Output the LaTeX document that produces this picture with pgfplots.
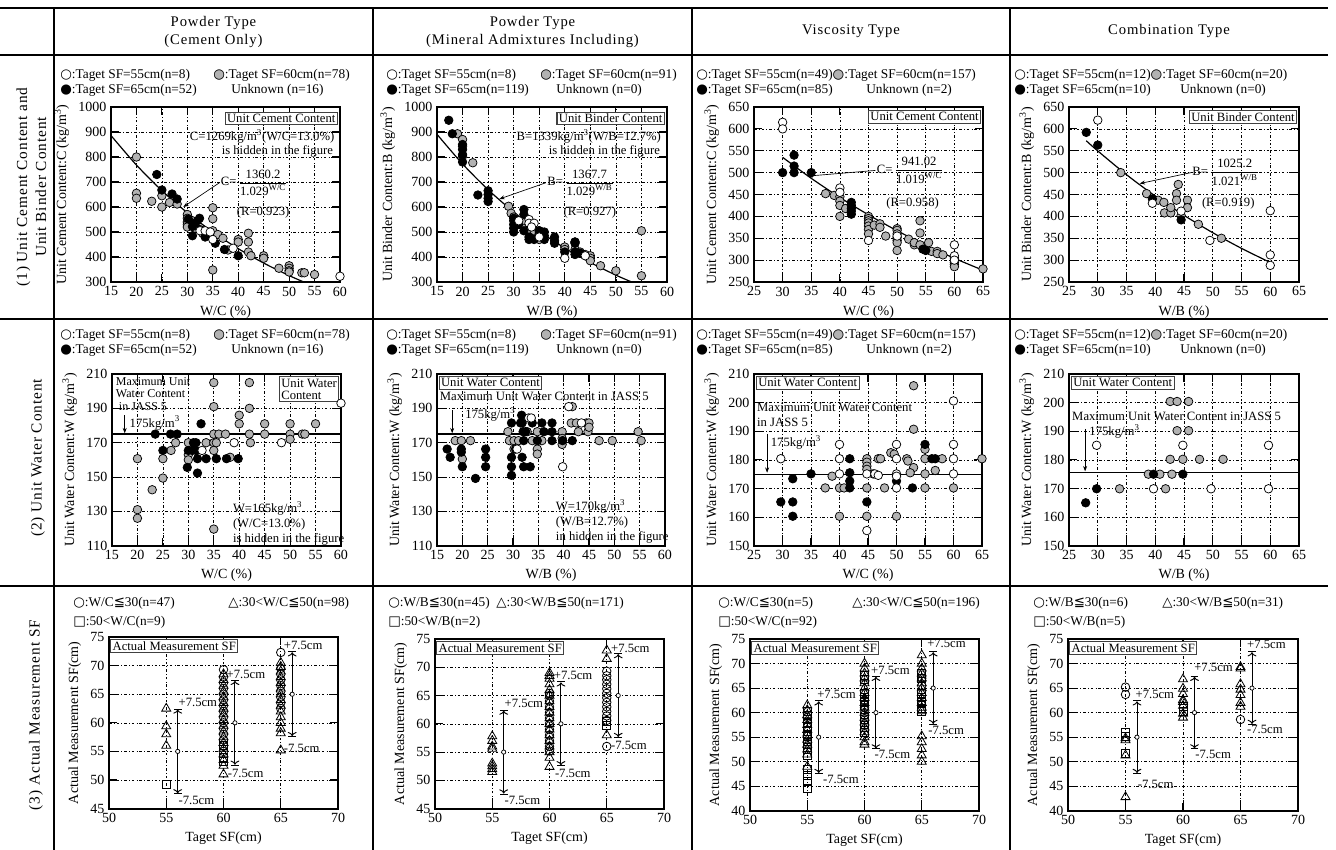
\documentclass[border=0pt]{standalone}
\usepackage{fontspec}
\setmainfont{Liberation Serif}
\newfontfamily\spaced[LetterSpace=6]{Liberation Serif}
\newfontfamily\symf{DejaVu Sans}
\usepackage{pgfplots}
\pgfplotsset{compat=1.18}
\usetikzlibrary{arrows.meta}

% legend glyphs
\newcommand{\wc}{{\symf\char"25CB}}
\newcommand{\bc}{{\symf\char"25CF}}
\newcommand{\gcc}{\makebox[0pt][l]{\symf\textcolor{gray!60}{\char"25CF}}{\symf\char"25CB}}
\newcommand{\tri}{{\symf\char"25B3}}
\newcommand{\sqb}{{\symf\char"25A1}}
\newcommand{\lqq}{{\symf\char"2266}}
\newcommand{\cube}{\textsuperscript{3}}

\pgfplotsset{
  pan/.style={scale only axis, anchor=north west,
    axis line style={line width=1.6pt},
    grid=major,
    major grid style={black, line width=0.45pt, dash pattern=on 2pt off 1.6pt on 0.5pt off 1.6pt},
    tick align=inside, major tick length=6pt,
    every tick/.style={black, line width=0.8pt},
    /pgf/number format/assume math mode=true,
    /pgf/number format/1000 sep={},
    tick label style={font=\fontsize{10.5}{12}\selectfont},
    label style={font=\fontsize{10.5}{12}\selectfont},
    clip=false},
  wpt/.style={only marks, mark=*, mark size=3.2pt, mark options={draw=black, fill=white, line width=0.55pt}},
  gpt/.style={only marks, mark=*, mark size=3.2pt, mark options={draw=black, fill=gray!60, line width=0.55pt}},
  bpt/.style={only marks, mark=*, mark size=3.2pt, mark options={draw=black, fill=black, line width=0.55pt}},
  fitc/.style={black, line width=0.9pt, smooth, no marks},
  cir/.style={only marks, mark=o, mark size=3.2pt, mark options={draw=black, line width=0.6pt}},
  trg/.style={only marks, mark=triangle, mark size=3.9pt, mark options={draw=black, line width=0.6pt}},
  sqr/.style={only marks, mark=square, mark size=3pt, mark options={draw=black, line width=0.6pt}},
  pm/.style={black, line width=0.7pt, |<->|, no marks},
  ctr/.style={only marks, mark=*, mark size=1.6pt, mark options={draw=black, fill=white, line width=0.55pt}},
  jass/.style={black, line width=1pt, no marks},
}
\tikzset{
  lg/.style={anchor=west, inner sep=0pt, font=\fontsize{10}{12}\selectfont},
  ann/.style={inner sep=0.5pt, font=\fontsize{9.5}{10.5}\selectfont},
  bx/.style={draw=black!75, line width=0.8pt, fill=white, inner sep=1.5pt, font=\fontsize{9.5}{10}\selectfont},
  arr/.style={-{Stealth[length=4pt,width=3pt]}, line width=0.5pt},
}

\begin{document}
\begin{tikzpicture}[x=0.75pt, y=-0.75pt]
\useasboundingbox (0,0) rectangle (1336,850);

% table frame
\draw[line width=1.5pt] (0,8) -- (1328,8);
\draw[line width=1.5pt] (0,55) -- (1328,55);
\draw[line width=1.5pt] (0,319) -- (1328,319);
\draw[line width=1.5pt] (0,586) -- (1328,586);
\foreach \cx in {54,373,692,1010} \draw[line width=1.1pt] (\cx,8) -- (\cx,850);

% headers
\node[align=center, font=\spaced\fontsize{11}{13.5}\selectfont] at (213.5,32) {Powder Type\\(Cement Only)};
\node[align=center, font=\spaced\fontsize{11}{13.5}\selectfont] at (532.5,32) {Powder Type\\(Mineral Admixtures Including)};
\node[font=\spaced\fontsize{11}{13.5}\selectfont] at (851,31) {Viscosity Type};
\node[font=\spaced\fontsize{11}{13.5}\selectfont] at (1169,31) {Combination Type};

% row labels
\node[rotate=90, align=center, font=\spaced\fontsize{11.5}{14.25}\selectfont] at (31.5,187) {(1) Unit Cement Content and\\Unit Binder Content};
\node[rotate=90, font=\spaced\fontsize{11.5}{14}\selectfont] at (38,458) {(2) Unit Water Content};
\node[rotate=90, font=\spaced\fontsize{11.5}{14}\selectfont] at (36,715) {(3) Actual Measurement SF};

% legends rows 1 and 2
\foreach \ry in {0,260} {
  \node[lg] at (60,75+\ry) {\wc:Taget SF=55cm(n=8)};
  \node[lg] at (213,75+\ry) {\gcc:Taget SF=60cm(n=78)};
  \node[lg] at (60,90+\ry) {\bc:Taget SF=65cm(n=52)};
  \node[lg] at (231,90+\ry) {Unknown (n=16)};
  \node[lg] at (386,75+\ry) {\wc:Taget SF=55cm(n=8)};
  \node[lg] at (540,75+\ry) {\gcc:Taget SF=60cm(n=91)};
  \node[lg] at (386,90+\ry) {\bc:Taget SF=65cm(n=119)};
  \node[lg] at (556,90+\ry) {Unknown (n=0)};
  \node[lg] at (696,75+\ry) {\wc:Taget SF=55cm(n=49)\gcc:Taget SF=60cm(n=157)};
  \node[lg] at (696,90+\ry) {\bc:Taget SF=65cm(n=85)};
  \node[lg] at (866,90+\ry) {Unknown (n=2)};
  \node[lg] at (1014,75+\ry) {\wc:Taget SF=55cm(n=12)\gcc:Taget SF=60cm(n=20)};
  \node[lg] at (1014,90+\ry) {\bc:Taget SF=65cm(n=10)};
  \node[lg] at (1180,90+\ry) {Unknown (n=0)};
}
% legends row 3
\node[lg] at (73,603) {\wc:W/C\lqq30(n=47)};
\node[lg] at (228,603) {\tri:30<W/C\lqq50(n=98)};
\node[lg] at (73,622) {\sqb:50<W/C(n=9)};
\node[lg] at (388,603) {\wc:W/B\lqq30(n=45)\ \ \tri:30<W/B\lqq50(n=171)};
\node[lg] at (388,622) {\sqb:50<W/B(n=2)};
\node[lg] at (718,603) {\wc:W/C\lqq30(n=5)};
\node[lg] at (852,603) {\tri:30<W/C\lqq50(n=196)};
\node[lg] at (718,622) {\sqb:50<W/C(n=92)};
\node[lg] at (1033,603) {\wc:W/B\lqq30(n=6)};
\node[lg] at (1162,603) {\tri:30<W/B\lqq50(n=31)};
\node[lg] at (1033,622) {\sqb:50<W/B(n=5)};

%================ ROW 1 ================
\begin{axis}[pan, at={(83.25pt,-80.25pt)}, width=171.75pt, height=131.25pt,
  xmin=15, xmax=60, ymin=300, ymax=1000, xtick={15,20,...,60}, ytick={300,400,...,1000},
  xlabel={W/C (\%)}, ylabel={Unit Cement Content:C (kg/m\cube)}]
\addplot[gpt] coordinates {(20,800) (20,655) (20,635) (23,623) (25,645) (25,600) (26.5,618) (28,612) (30,570) (30,555) (30,540) (30,530) (30,520) (32.5,510) (33,495) (35,597) (35,553) (35,505) (35,480) (35,348) (36,490) (37,475) (38,428) (40,470) (40,460) (42,495) (42,460) (42,420) (42.5,405) (45,405) (45,395) (48,355) (50,365) (50,355) (50,345) (50,340) (52.5,337) (53,337) (55,330) (31,545) (34,500) (31.5,515)};
\addplot[bpt] coordinates {(24,730) (25,668) (27,652) (28,632) (30.2,552) (31,522) (31,485) (32.4,555) (33,505) (34,485) (35.5,455) (37.3,430) (40,405) (32,545) (31.5,535) (33.5,480)};
\addplot[wpt] coordinates {(32.5,505) (33.5,505) (34.5,500) (39,435) (60,323) (35,470)};
\addplot[fitc] coordinates {(15,885.9) (20,767.9) (25,665.6) (30,577.0) (35,500.1) (40,433.5) (45,375.8) (50,325.7) (52.9,300)};
\node[bx, anchor=north east] at (axis cs:59.6,982) {Unit Cement Content};
\node[ann] at (axis cs:44.7,881) {C=1269kg/m\cube(W/C=13.0\%)};
\node[ann, anchor=east] at (axis cs:58.8,821) {is hidden in the figure};
\node[ann, anchor=west] at (axis cs:36.4,697) {C=\,$\displaystyle\frac{\mbox{1360.2}}{\mbox{1.029\textsuperscript{W/C}}}$};
\node[ann] at (axis cs:44.9,577) {(R=0.923)};
\draw[arr] (axis cs:36.3,697) -- (axis cs:29.2,600);
\end{axis}

\begin{axis}[pan, at={(327.75pt,-80.25pt)}, width=172.5pt, height=131.25pt,
  xmin=15, xmax=60, ymin=300, ymax=1000, xtick={15,20,...,60}, ytick={300,400,...,1000},
  xlabel={W/B (\%)}, ylabel={Unit Binder Content:B (kg/m\cube)}]
\addplot[gpt] coordinates {(19,893) (20,870) (20,843) (20,803) (22,777) (29,603) (29.5,575) (30,560) (30,545) (31,540) (32,545) (33,530) (33,505) (34,505) (35,505) (35,495) (35,485) (35,470) (40,440) (40,430) (42,430) (42,460) (43,420) (43,415) (44,410) (45,405) (45,395) (45,385) (47,365) (50,345) (55,325) (55,505)};
\addplot[bpt] coordinates {(17.3,947) (18,893) (20,850) (20,830) (20,810) (20,780) (23,648) (25,665) (25,650) (25,635) (25,622) (30,555) (30,530) (30,515) (30,500) (31,530) (32,590) (32,570) (32,505) (33,480) (33,470) (34,470) (35,505) (35,490) (36,500) (36,485) (36,470) (38,480) (38,465) (38,455) (40,420) (42,460) (42,455) (42,420) (42,410) (43,415)};
\addplot[wpt] coordinates {(31,545) (33,550) (33,535) (34,535) (35,480) (40,395) (44,405) (33.5,520)};
\addplot[fitc] coordinates {(15,890.8) (20,772.2) (25,669.3) (30,580.1) (35,502.9) (40,435.9) (45,377.9) (50,327.5) (53.1,300)};
\node[bx, anchor=north east] at (axis cs:59.6,982) {Unit Binder Content};
\node[ann] at (axis cs:44.7,881) {B=1339kg/m\cube(W/B=12.7\%)};
\node[ann, anchor=east] at (axis cs:58.8,821) {is hidden in the figure};
\node[ann, anchor=west] at (axis cs:36.4,697) {B=\,$\displaystyle\frac{\mbox{1367.7}}{\mbox{1.029\textsuperscript{W/B}}}$};
\node[ann] at (axis cs:44.9,577) {(R=0.927)};
\draw[arr] (axis cs:36.3,697) -- (axis cs:27.2,632);
\end{axis}

\begin{axis}[pan, at={(565.5pt,-80.25pt)}, width=171.75pt, height=131.25pt,
  xmin=25, xmax=65, ymin=250, ymax=650, xtick={25,30,...,65}, ytick={250,300,...,650},
  xlabel={W/C (\%)}, ylabel={Unit Cement Content:C (kg/m\cube)}]
\addplot[gpt] coordinates {(37.5,452) (39,448) (40,445) (40,435) (40,425) (40,400) (41,418) (45,400) (45,395) (45,390) (45,385) (45,378) (45,370) (45,360) (46,380) (47,383) (47,375) (48,355) (50,372) (50,368) (50,360) (50,352) (50,345) (50,340) (50,322) (52,348) (53,335) (53,340) (54,390) (54,362) (54,335) (55.5,340) (56,320) (57,320) (57,315) (58,312) (60,305) (60,295) (60,290) (60,285) (65,280)};
\addplot[bpt] coordinates {(30,500) (32,540) (32,515) (32,500) (35,500) (42,432) (42,425) (42,418) (42,412) (42,405) (54.5,325) (55,322)};
\addplot[wpt] coordinates {(30,615) (30,600) (40,465) (40,455) (45,345) (50,355) (60,335) (60,310) (60,300)};
\addplot[fitc] coordinates {(30,535.0) (35,487.0) (40,443.3) (45,403.5) (50,367.2) (55,334.2) (60,304.2) (65,276.9)};
\node[bx, anchor=north east] at (axis cs:64.7,643) {Unit Cement Content};
\node[ann, anchor=west] at (axis cs:46.3,505) {C=\,$\displaystyle\frac{\mbox{941.02}}{\mbox{1.019\textsuperscript{W/C}}}$};
\node[ann] at (axis cs:52.7,430) {(R=0.958)};
\draw[arr] (axis cs:46.2,505) -- (axis cs:34.3,492);
\end{axis}

\begin{axis}[pan, at={(801.75pt,-80.25pt)}, width=172.5pt, height=131.25pt,
  xmin=25, xmax=65, ymin=250, ymax=650, xtick={25,30,...,65}, ytick={250,300,...,650},
  xlabel={W/B (\%)}, ylabel={Unit Binder Content:B (kg/m\cube)}]
\addplot[gpt] coordinates {(34,500) (38.5,452) (40.5,437) (41.6,408) (42.7,408) (42.7,420) (44,473) (43.7,452) (43.7,437) (44.5,402) (45.6,437) (45.6,420) (47.5,382) (51.5,350) (41.5,432)};
\addplot[bpt] coordinates {(28,592) (30,563) (39.5,440) (44.5,392)};
\addplot[wpt] coordinates {(30,620) (39.5,430) (44.5,412) (49.5,345) (60,413) (60,312) (60,288)};
\addplot[fitc] coordinates {(28,572.9) (30,549.6) (35,495.3) (40,446.5) (45,402.4) (50,362.7) (55,326.9) (60,294.6)};
\node[bx, anchor=north east] at (axis cs:64.7,643) {Unit Binder Content};
\node[ann, anchor=west] at (axis cs:46.3,500) {B=\,$\displaystyle\frac{\mbox{1025.2}}{\mbox{1.021\textsuperscript{W/B}}}$};
\node[ann] at (axis cs:52.7,430) {(R=0.919)};
\draw[arr] (axis cs:46.2,500) -- (axis cs:37.3,475);
\end{axis}

%================ ROW 2 ================
\begin{axis}[pan, at={(84pt,-280.5pt)}, width=171.75pt, height=128.8pt,
  xmin=15, xmax=60, ymin=110, ymax=210, xtick={15,20,...,60}, ytick={110,130,...,210},
  xlabel={W/C (\%)}, ylabel={Unit Water Content:W (kg/m\cube)}]
\addplot[jass] coordinates {(15,175) (60,175)};
\addplot[gpt] coordinates {(35,205) (42,205) (35,191) (42,190) (40,186) (40,181) (45,181) (50,181) (55,181) (35,175) (36,175) (37.3,175) (42,175) (45,175) (50,175) (52.4,175) (52.9,175) (27.5,170) (30,170) (33.5,170) (35,170) (35.5,170) (42.2,170) (50,172) (26.6,165.5) (35,165.5) (20,160.7) (25,160.7) (30,163) (30,160) (38.2,161.5) (25,149.4) (22.9,142.6) (20,131) (20,126) (35,119.7)};
\addplot[bpt] coordinates {(32.5,181) (23.5,175) (26.5,175) (27.8,175) (31,170) (31.5,170) (25,165.5) (30,165.5) (30.8,165.5) (31.5,165.5) (31.8,160.7) (33.5,160.7) (35.5,160.7) (37.5,160.7) (39.8,160.7) (29.8,155.6) (31.8,152.3)};
\addplot[wpt] coordinates {(32.7,165.5) (39,170) (48.3,170) (60,193)};
\node[ann, anchor=north west, align=left, font=\fontsize{9}{9.3}\selectfont] at (axis cs:15.6,208.5) {Maximum Unit\\Water Content\\\ in JASS 5};
\node[ann, anchor=west] at (axis cs:18.3,181.5) {175kg/m\cube};
\draw[arr] (axis cs:17.5,186) -- (axis cs:17.5,175.5);
\node[bx, anchor=north east, align=left, font=\fontsize{9.5}{9.5}\selectfont] at (axis cs:59.7,208.7) {Unit Water\\Content};
\node[ann, anchor=north west, align=left, font=\fontsize{9.5}{11.3}\selectfont] at (axis cs:38.6,136.5) {W=165kg/m\cube\\(W/C=13.0\%)\\is hidden in the figure};
\end{axis}

\begin{axis}[pan, at={(327.75pt,-280.5pt)}, width=171pt, height=128.8pt,
  xmin=15, xmax=60, ymin=110, ymax=210, xtick={15,20,...,60}, ytick={110,130,...,210},
  xlabel={W/B (\%)}, ylabel={Unit Water Content:W (kg/m\cube)}]
\addplot[jass] coordinates {(15,175) (60,175)};
\addplot[gpt] coordinates {(41.7,191) (41.5,181.5) (42.5,181.5) (44.5,181.5) (45,181.5) (29,176.4) (32.8,176.4) (34.8,176.4) (39.7,176.4) (42.9,176.4) (44.8,176.4) (45,179) (54.7,176.4) (18.6,171.2) (19.8,171.2) (21.6,171.2) (29.3,171.2) (30.2,171.2) (31.1,171.2) (33.8,171.2) (35.7,171.2) (39.7,172.5) (39.7,169) (47,171.2) (49.6,171.2) (55.3,171.2) (30.2,166.3) (34.8,166.3) (34.8,163.4) (20,160.5)};
\addplot[bpt] coordinates {(31.7,186) (29.7,181.5) (31.5,181.5) (31.8,181.5) (33.8,181.5) (35.7,181.5) (37.7,181.5) (32,176.4) (32.5,176.4) (36.1,176.4) (37.7,176.4) (32.1,171.2) (34.8,171.2) (37.7,171.2) (39.8,171.2) (41.7,171.2) (17,166.3) (19.8,166.3) (24.6,166.3) (17.6,161.5) (19.8,164.5) (24.6,161.5) (29.7,161.5) (31.8,161.5) (20,156) (24.6,156) (29.7,156) (32.1,156) (33.4,156) (22.6,149.2) (29.7,151) (30.5,166.3)};
\addplot[wpt] coordinates {(41,191) (33.1,184.4) (33.6,184.4) (30.8,166.3) (39.8,156) (43.5,181.5)};
\node[bx, anchor=north west] at (axis cs:15.3,208.8) {Unit Water Content};
\node[ann, anchor=west] at (axis cs:15.4,196.8) {Maximum Unit Water Content in JASS 5};
\node[ann, anchor=west] at (axis cs:20.4,186.7) {175kg/m\cube};
\draw[arr] (axis cs:18,189) -- (axis cs:18,175.5);
\node[ann, anchor=north west, align=left, font=\fontsize{9.5}{11.3}\selectfont] at (axis cs:38.3,137.5) {W=170kg/m\cube\\(W/B=12.7\%)\\in hidden in the figure};
\end{axis}

\begin{axis}[pan, at={(565.5pt,-280.5pt)}, width=171pt, height=128.8pt,
  xmin=25, xmax=65, ymin=150, ymax=210, xtick={25,30,...,65}, ytick={150,160,...,210},
  xlabel={W/C (\%)}, ylabel={Unit Water Content:W (kg/m\cube)}]
\addplot[jass] coordinates {(25,175) (65,175)};
\addplot[gpt] coordinates {(53,205.9) (53,190.7) (55,183.7) (49,182.5) (49.6,182) (44.8,180.4) (46.8,180.4) (47.2,180.4) (51.8,180.4) (52,179.6) (55,180.4) (58,180.4) (65,180.4) (44.8,179.2) (44.8,177.8) (44.8,176.7) (53,177.3) (56.8,176.3) (52.4,175.5) (45.9,175.1) (55,175.1) (38.7,174.3) (37.5,170.2) (40,170.2) (40.8,170.2) (44.8,170.2) (47.9,170.2) (55,170.2) (60,170.2) (40,160.3) (44.8,160.3) (50,160.3)};
\addplot[bpt] coordinates {(55,185.4) (41.8,180.4) (56.2,180.4) (56.8,180.4) (35,175.1) (41.8,175.5) (31.8,173.4) (41.8,172.6) (50,172.6) (41.8,170.2) (52.8,170.2) (29.7,165.3) (31.8,165.3) (44.8,165.3) (31.8,160.3)};
\addplot[wpt] coordinates {(60,200.6) (40,185.4) (50,185.4) (60,185.4) (29.7,180.4) (40,180.4) (50,180.4) (60,180.4) (40,175.1) (44.8,175.1) (46.2,175.1) (46.8,174.6) (50,175.1) (50,174.3) (60,175.1) (50,170.2) (44.8,155.3)};
\node[bx, anchor=north west] at (axis cs:25.3,209.3) {Unit Water Content};
\node[ann, anchor=north west, align=left, font=\fontsize{9.5}{11}\selectfont] at (axis cs:25.4,200) {Maximum Unit Water Content\\in JASS 5};
\node[ann, anchor=west] at (axis cs:27.8,186) {175kg/m\cube};
\draw[arr] (axis cs:27.3,189) -- (axis cs:27.3,175.5);
\end{axis}

\begin{axis}[pan, at={(801.75pt,-280.5pt)}, width=172.5pt, height=128.8pt,
  xmin=25, xmax=65, ymin=150, ymax=210, xtick={25,30,...,65}, ytick={150,160,...,210},
  xlabel={W/B (\%)}, ylabel={Unit Water Content:W (kg/m\cube)}]
\addplot[jass] coordinates {(25,175.5) (65,175.5)};
\addplot[gpt] coordinates {(42.6,200.4) (43.8,200.4) (45.8,200.4) (43.8,190.2) (45.8,190.2) (42.6,180.2) (44.8,180.2) (47.7,180.2) (51.8,180.2) (38.8,175) (40.8,175) (42.9,175) (33.8,169.9) (41.8,169.9)};
\addplot[bpt] coordinates {(39.7,175) (44.8,175) (29.8,169.9) (27.9,165)};
\addplot[wpt] coordinates {(29.8,185.1) (44.8,185.1) (59.7,185.1) (39.7,169.9) (49.7,169.9) (59.7,169.9)};
\node[bx, anchor=north west] at (axis cs:25.3,209.3) {Unit Water Content};
\node[ann, anchor=west] at (axis cs:25.4,195.1) {Maximum Unit Water Content in JASS 5};
\node[ann, anchor=west] at (axis cs:28.4,189.8) {175kg/m\cube};
\draw[arr] (axis cs:27.8,190.8) -- (axis cs:27.8,176);
\end{axis}

%================ ROW 3 ================
\begin{axis}[pan, at={(81.75pt,-477.75pt)}, width=171.75pt, height=128.7pt,
  xmin=50, xmax=70, ymin=45, ymax=75, xtick={50,55,...,70}, ytick={45,50,...,75},
  xlabel={Taget SF(cm)}, ylabel={Actual Measurement SF(cm)}]
\addplot[trg] coordinates {(55,62.5) (55,59.4) (55,58) (55,56) (60,68.5) (60,67.5) (60,66.5) (60,65.5) (60,64.5) (60,63.5) (60,62.5) (60,61.5) (60,60.5) (60,59.5) (60,58.5) (60,57.5) (60,56.5) (60,55.5) (60,54.5) (60,53.5) (60,52.5) (60,51) (65,70.5) (65,69.8) (65,69) (65,68) (65,67) (65,66) (65,65) (65,64) (65,63) (65,62) (65,61) (65,60) (65,59) (65,58.2) (65,55.2)};
\addplot[cir] coordinates {(60,69.3) (60,68) (60,67) (60,66) (60,65) (60,64) (60,63) (60,62) (60,61) (60,60) (60,59) (60,58) (60,57) (60,56) (60,55) (65,72.3) (65,69.5) (65,68.5) (65,67.5) (65,66.5) (65,65.5) (65,64.5) (65,63.5) (65,62.5)};
\addplot[sqr] coordinates {(55,49.2) (60,54) (60,53.2) (60,56)};
\addplot[pm] coordinates {(56,47.5) (56,62.5)};
\addplot[pm] coordinates {(61,52.5) (61,67.5)};
\addplot[pm] coordinates {(66,57.5) (66,72.5)};
\addplot[ctr] coordinates {(56,55) (61,60) (66,65)};
\node[bx, anchor=north west] at (axis cs:50.1,74.6) {Actual Measurement SF};
\node[ann, anchor=south west] at (axis cs:56,62.6) {+7.5cm};
\node[ann, anchor=north west] at (axis cs:56,47.3) {-7.5cm};
\node[ann, anchor=south west] at (axis cs:60.2,67.6) {+7.5cm};
\node[ann, anchor=west] at (axis cs:60.3,51.2) {-7.5cm};
\node[ann, anchor=south west] at (axis cs:65.2,72.6) {+7.5cm};
\node[ann, anchor=west] at (axis cs:65.2,55.6) {-7.5cm};
\end{axis}

\begin{axis}[pan, at={(326.25pt,-479.25pt)}, width=171.75pt, height=127.2pt,
  xmin=50, xmax=70, ymin=45, ymax=75, xtick={50,55,...,70}, ytick={45,50,...,75},
  xlabel={Taget SF(cm)}, ylabel={Actual Measurement SF(cm)}]
\addplot[trg] coordinates {(55,57.8) (55,57) (55,56) (55,55.6) (55,53) (55,52.5) (55,52) (55,51.5) (60,69) (60,68.5) (60,68) (60,67) (60,66) (60,65) (60,64) (60,63) (60,62) (60,61) (60,60) (60,59) (60,58) (60,57) (60,56) (60,55) (60,54) (60,52.4) (65,73) (65,71.5) (65,58)};
\addplot[cir] coordinates {(60,65.4) (60,65) (60,64) (60,63) (60,62) (60,61) (60,60) (60,59) (60,58) (60,57) (60,56) (60,55.2) (65,69.3) (65,68.5) (65,67.8) (65,67) (65,66.2) (65,65.4) (65,64.6) (65,63.8) (65,63) (65,62.2) (65,61.4) (65,60.6) (65,56)};
\addplot[sqr] coordinates {(65,59.8) (65,60.4)};
\addplot[pm] coordinates {(56,47.5) (56,62.5)};
\addplot[pm] coordinates {(61,52.5) (61,67.5)};
\addplot[pm] coordinates {(66,57.5) (66,72.5)};
\addplot[ctr] coordinates {(56,55) (61,60) (66,65)};
\node[bx, anchor=north west] at (axis cs:50.1,74.6) {Actual Measurement SF};
\node[ann, anchor=south west] at (axis cs:56,62.6) {+7.5cm};
\node[ann, anchor=north west] at (axis cs:56,47.3) {-7.5cm};
\node[ann, anchor=west] at (axis cs:60.3,68.5) {+7.5cm};
\node[ann, anchor=west] at (axis cs:60.4,51.3) {-7.5cm};
\node[ann, anchor=west] at (axis cs:65.3,73.4) {+7.5cm};
\node[ann, anchor=west] at (axis cs:65.3,56.2) {-7.5cm};
\end{axis}

\begin{axis}[pan, at={(562.5pt,-479.25pt)}, width=171.75pt, height=128.8pt,
  xmin=50, xmax=70, ymin=40, ymax=75, xtick={50,55,...,70}, ytick={40,45,...,75},
  xlabel={Taget SF(cm)}, ylabel={Actual Measurement SF(cm)}]
\addplot[sqr] coordinates {(55,60.3) (55,59.5) (55,58) (55,57) (55,55.5) (55,54.5) (55,53.5) (55,52.5) (55,51.3) (55,48.5) (55,47.2) (55,45.9) (55,44.6) (60,67.5) (60,66.8) (60,64) (60,63) (60,62) (60,59) (60,58) (60,57) (60,56) (65,68) (65,67) (65,64) (65,63) (65,62) (65,60.8) (65,60.2)};
\addplot[trg] coordinates {(55,61.5) (55,60.5) (55,59.5) (55,58.5) (55,57.5) (55,56.5) (55,55.5) (55,54.5) (55,53.5) (55,52.5) (55,51.5) (55,49) (60,70) (60,69) (60,68) (60,67) (60,66) (60,65) (60,64) (60,63) (60,62) (60,61) (60,60) (60,59) (60,58) (60,57) (60,56) (60,55) (60,54) (60,53.5) (65,71.7) (65,70) (65,69) (65,68) (65,67) (65,66) (65,65) (65,64) (65,63) (65,62) (65,61) (65,60.3) (65,55.2) (65,54) (65,52.6) (65,51.3) (65,50)};
\addplot[cir] coordinates {(55,59) (55,55.3) (60,62.5) (60,61) (60,60) (65,65.5) (65,67)};
\addplot[pm] coordinates {(56,47.5) (56,62.5)};
\addplot[pm] coordinates {(61,52.5) (61,67.5)};
\addplot[pm] coordinates {(66,57.5) (66,72.5)};
\addplot[ctr] coordinates {(56,55) (61,60) (66,65)};
\node[bx, anchor=north west] at (axis cs:50.1,74.6) {Actual Measurement SF};
\node[ann, anchor=south west] at (axis cs:55.8,62.6) {+7.5cm};
\node[ann, anchor=west] at (axis cs:56.3,46.3) {-7.5cm};
\node[ann, anchor=west] at (axis cs:60.5,68.6) {+7.5cm};
\node[ann, anchor=west] at (axis cs:60.8,51.4) {-7.5cm};
\node[ann, anchor=west] at (axis cs:65.4,74) {+7.5cm};
\node[ann, anchor=west] at (axis cs:65.5,56.3) {-7.5cm};
\end{axis}

\begin{axis}[pan, at={(801pt,-479.25pt)}, width=172.5pt, height=128.8pt,
  xmin=50, xmax=70, ymin=40, ymax=75, xtick={50,55,...,70}, ytick={40,45,...,75},
  xlabel={Taget SF(cm)}, ylabel={Actual Measurement SF(cm)}]
\addplot[cir] coordinates {(55,65.2) (55,63.7) (65,58.6)};
\addplot[sqr] coordinates {(55,56) (55,55.2) (55,51.7) (60,61.2) (60,60.2)};
\addplot[trg] coordinates {(55,54.4) (55,54.8) (55,51.3) (55,42.8) (60,66.8) (60,64.9) (60,63.8) (60,62.6) (60,62.2) (60,61.4) (60,59.8) (60,59) (65,69.3) (65,69) (65,65.8) (65,64.7) (65,63.6) (65,62) (65,61.2)};
\addplot[pm] coordinates {(56,47.5) (56,62.5)};
\addplot[pm] coordinates {(61,52.5) (61,67.5)};
\addplot[pm] coordinates {(66,57.5) (66,72.5)};
\addplot[ctr] coordinates {(56,55) (61,60) (66,65)};
\node[bx, anchor=north west] at (axis cs:50.1,74.6) {Actual Measurement SF};
\node[ann, anchor=west] at (axis cs:55.8,63.7) {+7.5cm};
\node[ann, anchor=west] at (axis cs:56,45.3) {-7.5cm};
\node[ann, anchor=west] at (axis cs:60.9,69.2) {+7.5cm};
\node[ann, anchor=west] at (axis cs:61,51.4) {-7.5cm};
\node[ann, anchor=west] at (axis cs:65.5,73.8) {+7.5cm};
\node[ann, anchor=west] at (axis cs:65.5,56.5) {-7.5cm};
\end{axis}
\end{tikzpicture}
\end{document}
